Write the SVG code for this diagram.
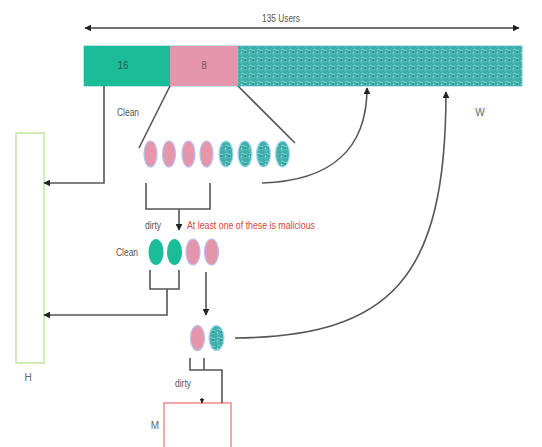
<svg xmlns="http://www.w3.org/2000/svg" width="542" height="447" viewBox="0 0 542 447">
<style>
.t{font-family:"Liberation Sans",Arial,sans-serif;font-size:10px;fill:#555}
.ln{fill:none;stroke:#555;stroke-width:1.6}
.pk{fill:#e596aa;stroke:#b4c0f2;stroke-width:1.2}
.gr{fill:#1bbd98;stroke:none}
.tl{fill:url(#tex);stroke:#a8d8f2;stroke-width:1.2}
</style>
<defs>
<pattern id="tex" width="8" height="8" patternUnits="userSpaceOnUse">
<rect width="8" height="8" fill="#3eafad"/>
<path d="M1,2 q2,-2 3,0 q1,2 3,0" fill="none" stroke="#8fd8d2" stroke-width="0.9"/>
<path d="M0,6 q2,2 3,0 q1,-2 4,0" fill="none" stroke="#6cc8c2" stroke-width="0.8"/>
<circle cx="5" cy="4" r="0.9" fill="#278f8d"/>
<circle cx="1.5" cy="4.5" r="0.7" fill="#b9ebe6"/>
</pattern>
<marker id="ah" viewBox="0 0 10 10" refX="9" refY="5" markerWidth="7" markerHeight="7" orient="auto-start-reverse" markerUnits="userSpaceOnUse">
<path d="M0,0 L10,5 L0,10 z" fill="#222"/>
</marker>
<marker id="ahs" viewBox="0 0 10 10" refX="9" refY="5" markerWidth="5" markerHeight="5" orient="auto" markerUnits="userSpaceOnUse">
<path d="M0,0 L10,5 L0,10 z" fill="#222"/>
</marker>
</defs>

<g id="users-arrow">
<line x1="85" y1="28" x2="519" y2="28" stroke="#444" stroke-width="1.3" marker-start="url(#ah)" marker-end="url(#ah)"/>
<text class="t" x="281" y="22" text-anchor="middle" textLength="38" lengthAdjust="spacingAndGlyphs">135 Users</text>
</g>

<g id="bar">
<rect x="84" y="46" width="438" height="40" fill="none" stroke="#a8d8f2" stroke-width="1.5"/>
<rect x="84" y="46" width="86" height="40" fill="#1bbd98"/>
<rect x="170" y="46" width="68" height="40" fill="#e596aa"/>
<rect x="238" y="46" width="284" height="40" fill="url(#tex)"/>
<text class="t" x="123" y="69" text-anchor="middle" style="fill:#2b5a4a">16</text>
<text class="t" x="204" y="69" text-anchor="middle" style="fill:#7a5560">8</text>
</g>

<g id="H">
<rect x="16" y="133" width="28" height="230" fill="#fff" stroke="#b4e08a" stroke-width="1.2"/>
<text class="t" x="28" y="381" text-anchor="middle" style="fill:#666">H</text>
</g>

<g id="M">
<rect x="164" y="403" width="67" height="50" fill="#fff" stroke="#ee6d6d" stroke-width="1.2"/>
<text class="t" x="155" y="429" text-anchor="middle" style="fill:#666">M</text>
</g>

<g id="row1">
<ellipse class="pk" cx="150.5" cy="154" rx="6.5" ry="13"/>
<ellipse class="pk" cx="169" cy="154" rx="6.5" ry="13"/>
<ellipse class="pk" cx="188.5" cy="154" rx="6.5" ry="13"/>
<ellipse class="pk" cx="206.5" cy="154" rx="6.5" ry="13"/>
<ellipse class="tl" cx="226" cy="154" rx="7" ry="13"/>
<ellipse class="tl" cx="245" cy="154" rx="7" ry="13"/>
<ellipse class="tl" cx="263.5" cy="154" rx="7" ry="13"/>
<ellipse class="tl" cx="282.5" cy="154" rx="7" ry="13"/>
</g>

<g id="row2">
<ellipse class="gr" cx="156" cy="252" rx="7.5" ry="13"/>
<ellipse class="gr" cx="174.5" cy="252" rx="7.5" ry="13"/>
<ellipse class="pk" cx="193" cy="252" rx="7" ry="13"/>
<ellipse class="pk" cx="211.5" cy="252" rx="7" ry="13"/>
</g>

<g id="row3">
<ellipse class="pk" cx="197.5" cy="338" rx="7" ry="12.5"/>
<ellipse class="tl" cx="216.5" cy="338" rx="7.5" ry="12.5"/>
</g>

<g id="labels">
<text class="t" x="128" y="116" text-anchor="middle" textLength="22" lengthAdjust="spacingAndGlyphs">Clean</text>
<text class="t" x="480" y="116" text-anchor="middle" style="fill:#666">W</text>
<text class="t" x="153" y="229" text-anchor="middle" textLength="16" lengthAdjust="spacingAndGlyphs">dirty</text>
<text class="t" x="187" y="229" style="fill:#e0413f" textLength="128" lengthAdjust="spacingAndGlyphs">At least one of these is malicious</text>
<text class="t" x="127" y="256" text-anchor="middle" textLength="22" lengthAdjust="spacingAndGlyphs">Clean</text>
<text class="t" x="183" y="387" text-anchor="middle" textLength="16" lengthAdjust="spacingAndGlyphs">dirty</text>
</g>

<g id="connectors">
<path class="ln" d="M104,86 V183 H44" marker-end="url(#ah)"/>
<line class="ln" x1="170" y1="86" x2="139" y2="148" stroke-width="1.2"/>
<line class="ln" x1="238" y1="86" x2="295" y2="143" stroke-width="1.2"/>
<path class="ln" d="M146,183 V209 H210 V183"/>
<path class="ln" d="M179,209 V230" marker-end="url(#ah)"/>
<path class="ln" d="M150,270 V289 H179 V270"/>
<path class="ln" d="M167,289 V315 H44" marker-end="url(#ah)"/>
<path class="ln" d="M206,272 V315" marker-end="url(#ah)"/>
<path class="ln" d="M190,358 V370 H222 V403"/>
<path class="ln" d="M204,358 V370"/>
<path class="ln" d="M202,398 V403" marker-end="url(#ahs)" stroke-width="1"/>
<path class="ln" d="M262,183 C330,181 367,150 367,88" marker-end="url(#ah)"/>
<path class="ln" d="M235,338 C390,336 446,280 446,92" marker-end="url(#ah)"/>
</g>
</svg>
